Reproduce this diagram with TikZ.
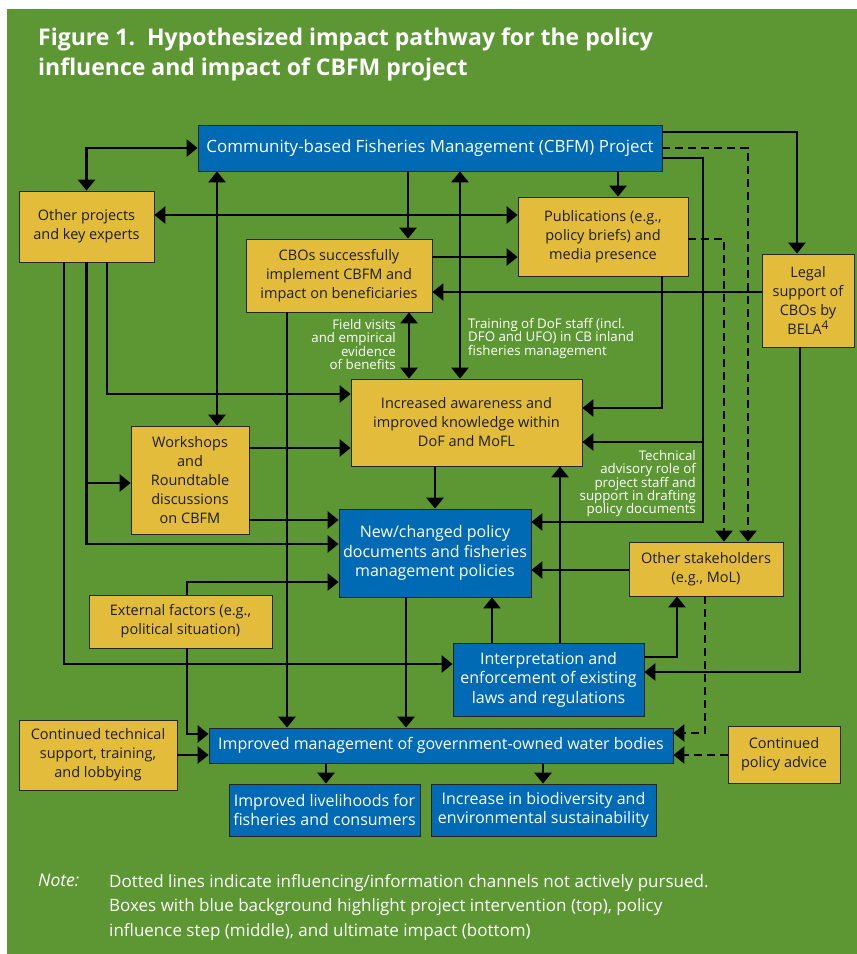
\documentclass[tikz,border=0pt]{standalone}
\usepackage{fontspec}
\setmainfont{Open Sans}
\usetikzlibrary{arrows.meta}
\definecolor{bggreen}{RGB}{93,151,52}
\definecolor{boxyellow}{RGB}{227,188,59}
\definecolor{boxblue}{RGB}{0,106,180}
\definecolor{boxtext}{RGB}{30,30,30}
\begin{document}
\begin{tikzpicture}[x=1pt,y=-1pt,
  base/.style={draw=black!85, line width=0.8pt, inner sep=0pt, align=center},
  ybox/.style={base, fill=boxyellow, text=boxtext, font=\fontsize{14.5}{19}\selectfont},
  bbox/.style={base, fill=boxblue, text=white, font=\fontsize{16}{19.5}\selectfont},
  conn/.style={line width=2.8pt, -{Triangle[length=11pt,width=17pt]}},
  dbl/.style={line width=2.8pt, {Triangle[length=11pt,width=17pt]}-{Triangle[length=11pt,width=17pt]}},
  dsh/.style={dash pattern=on 8pt off 5pt},
  lbl/.style={text=white, inner sep=0pt, font=\fontsize{13.3}{13.4}\selectfont}
]
\useasboundingbox (0,0) rectangle (857,954);
\fill[white] (0,0) rectangle (857,954);
\fill[bggreen] (7,9) rectangle (857,954);

% title
\node[anchor=north west, inner sep=0pt, text=white, align=left,
      font=\bfseries\fontsize{23}{30}\selectfont] (title) at (38,28)
  {Figure 1.\ \ Hypothesized impact pathway for the policy\\influence and impact of CBFM project};

% boxes
\node[bbox, minimum width=464pt, minimum height=46pt, font=\fontsize{16.9}{20}\selectfont] (cbfm) at (430,148) {Community-based Fisheries Management (CBFM) Project};
\node[ybox, minimum width=135pt, minimum height=71pt] (other) at (86.5,226.5) {Other projects\\and key experts};
\node[ybox, minimum width=186pt, minimum height=73pt] (cbo) at (339,275.5) {CBOs successfully\\implement CBFM and\\impact on beneficiaries};
\node[ybox, minimum width=170pt, minimum height=79pt] (pub) at (603,236.5) {Publications (e.g.,\\policy briefs) and\\media presence};
\node[ybox, minimum width=92pt, minimum height=93pt] (legal) at (808,300.5) {Legal\\support of\\CBOs by\\BELA\raisebox{5pt}{\fontsize{12}{12}\selectfont 4}};
\node[ybox, minimum width=231pt, minimum height=87pt] (aware) at (466.5,422.5) {Increased awareness and\\improved knowledge within\\DoF and MoFL};
\node[ybox, minimum width=118pt, minimum height=108pt] (work) at (190,480) {Workshops\\and\\Roundtable\\discussions\\on CBFM};
\node[bbox, minimum width=192pt, minimum height=88pt] (newpol) at (435,553) {New/changed policy\\documents and fisheries\\management policies};
\node[ybox, minimum width=154pt, minimum height=54pt] (stake) at (706,569) {Other stakeholders\\(e.g., MoL)};
\node[ybox, minimum width=183pt, minimum height=53pt] (ext) at (180.5,621.5) {External factors (e.g.,\\political situation)};
\node[bbox, minimum width=191pt, minimum height=73pt] (interp) at (548.5,679.5) {Interpretation and\\enforcement of existing\\laws and regulations};
\node[bbox, minimum width=464pt, minimum height=35pt] (impr) at (441,745.5) {Improved management of government-owned water bodies};
\node[ybox, minimum width=158pt, minimum height=70pt] (cont) at (98,755) {Continued technical\\support, training,\\and lobbying};
\node[ybox, minimum width=112pt, minimum height=57pt] (polad) at (784,754.5) {Continued\\policy advice};
\node[bbox, minimum width=191pt, minimum height=52pt] (livel) at (324.5,810) {Improved livelihoods for\\fisheries and consumers};
\node[bbox, minimum width=225pt, minimum height=52pt] (bio) at (543.5,810) {Increase in biodiversity and\\environmental sustainability};

% connectors
\draw[dbl] (other.north) |- (cbfm.west);
\draw[dbl] (cbfm.south -| 217,0) -- (work.north -| 217,0);
\draw[conn] (cbfm.south -| 408,0) -- (cbo.north -| 408,0);
\draw[dbl] (other.east |- 0,215) -- (pub.west |- 0,215);
\draw[conn] (other.south -| 107,0) |- (aware.west |- 0,394);
\draw[conn] (other.south) |- (newpol.west |- 0,544);
\draw[conn] (other.south |- 0,483) -- (work.west |- 0,483);
\draw[conn] (other.south -| 64,0) |- (interp.west |- 0,664);
\draw[conn] (cbo.south -| 287,0) -- (impr.north -| 287,0);
\draw[dbl] (cbo.south -| 409,0) -- (aware.north -| 409,0);
\draw[conn] (cbo.east |- 0,257) -- (pub.west |- 0,257);
\draw[conn] (legal.west |- 0,292) -- (cbo.east |- 0,292);
\draw[dbl] (cbfm.south -| 460,0) -- (aware.north -| 460,0);
\draw[conn] (cbfm.south -| 618,0) -- (pub.north -| 618,0);
\draw[conn] (cbfm.east |- 0,132) -| (legal.north -| 797,0);
\draw[conn,dsh] (cbfm.east |- 0,148) -| (stake.north -| 748,0);
\coordinate (tadv) at (703,522);
\draw[conn] (cbfm.east |- 0,158) -| (tadv) -- (newpol.east |- tadv);
\draw[conn] (tadv |- 0,442) -- (aware.east |- 0,442);
\draw[conn,dsh] (pub.east |- 0,239) -| (stake.north -| 724,0);
\draw[conn] (pub.south -| 662,0) |- (aware.east |- 0,408);
\draw[conn] (legal.south -| 800,0) |- (interp.east |- 0,672);
\draw[conn] (work.east |- 0,448) -- (aware.west |- 0,448);
\draw[conn] (work.east |- 0,520) -- (newpol.west |- 0,520);
\draw[conn] (ext.north -| 187,0) |- (newpol.west |- 0,582);
\draw[conn] (ext.south -| 187,0) |- (impr.west |- 0,734);
\draw[conn] (aware.south -| 435,0) -- (newpol.north -| 435,0);
\draw[conn] (interp.north -| 560,0) -- (aware.south -| 560,0);
\draw[conn] (interp.north -| 492,0) -- (newpol.south -| 492,0);
\draw[conn] (interp.east |- 0,657) -| (stake.south -| 677,0);
\draw[conn] (stake.west |- 0,570) -- (newpol.east |- 0,570);
\draw[conn,dsh] (stake.south -| 705,0) |- (impr.east |- 0,733);
\draw[conn,dsh] (polad.west |- 0,755) -- (impr.east |- 0,755);
\draw[conn] (newpol.south -| 406,0) -- (impr.north -| 406,0);
\draw[conn] (impr.south -| 326,0) -- (livel.north -| 326,0);
\draw[conn] (impr.south -| 543,0) -- (bio.north -| 543,0);
\draw[conn] (cont.east |- 0,755) -- (impr.west |- 0,755);

% labels
\node[lbl, anchor=north east, align=right] (lfield) at (396,319) {Field visits\\and empirical\\evidence\\of benefits};
\node[lbl, anchor=north west, align=left] (ltrain) at (468,318) {Training of DoF staff (incl.\\DFO and UFO) in CB inland\\fisheries management};
\node[lbl, anchor=north east, align=right] (ltech) at (696,450) {Technical\\advisory role of\\project staff and\\support in drafting\\policy documents};

% note
\node[anchor=north west, inner sep=0pt, text=white, font=\itshape\fontsize{17.5}{24.5}\selectfont] (notelbl) at (38,874) {Note:};
\node[anchor=north west, inner sep=0pt, text=white, align=left, font=\fontsize{17}{24.5}\selectfont] (notetxt) at (109,874)
  {Dotted lines indicate influencing/information channels not actively pursued.\\Boxes with blue background highlight project intervention (top), policy\\influence step (middle), and ultimate impact (bottom)};
\end{tikzpicture}
\end{document}
